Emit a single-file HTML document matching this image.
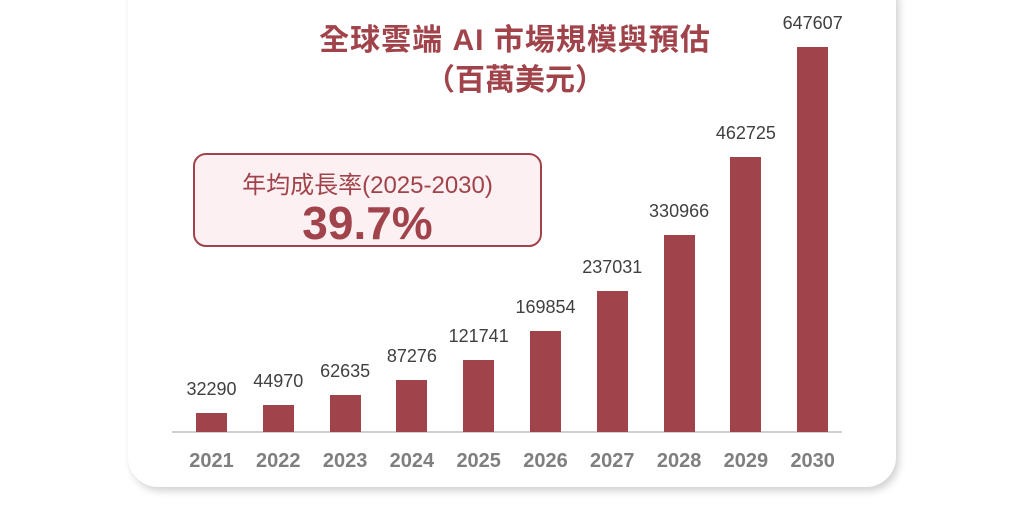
<!DOCTYPE html>
<html><head><meta charset="utf-8"><style>
body{margin:0;width:1024px;height:508px;background:#fff;position:relative;overflow:hidden;font-family:"Liberation Sans","Noto Sans CJK TC",sans-serif}
.card{position:absolute;left:128px;top:-30px;width:768px;height:517px;background:#fff;border-radius:30px;box-shadow:3px 4px 8px rgba(0,0,0,0.18)}
.t{position:absolute;color:#a0434a;font-weight:bold;font-size:30px;text-align:center;width:600px;left:215px}
.box{position:absolute;left:193px;top:153px;width:345px;height:90px;border:2px solid #a0434a;border-radius:13px;background:#fdf0f2;color:#a0434a;text-align:center}
.bar{position:absolute;background:#a0434a;width:31px}
.v{position:absolute;width:90px;text-align:center;font-size:18px;color:#404040}
.y{position:absolute;width:70px;text-align:center;font-size:20px;font-weight:bold;color:#7f7f7f;top:450px}
</style></head><body>
<div class="card"></div>
<div class="t" style="top:15px;letter-spacing:1px">全球雲端 AI 市場規模與預估</div>
<div class="t" style="top:55px">（百萬美元）</div>
<div class="box"><div style="font-size:24px;margin-top:10px">年均成長率(2025-2030)</div><div style="font-size:46px;font-weight:bold;line-height:46px">39.7%</div></div>
<div style="position:absolute;left:172px;top:431px;width:670px;height:2px;background:#d0d0d0"></div>
<div id="c"></div>
<script>
(function(){
var v=[32290,44970,62635,87276,121741,169854,237031,330966,462725,647607],h='';
for(var i=0;i<10;i++){var x=196+i*66.8,ht=v[i]*0.0005945,tp=432-ht;
h+='<div class="bar" style="left:'+x+'px;top:'+tp+'px;height:'+ht+'px"></div>';
h+='<div class="v" style="left:'+(x+15.5-45)+'px;top:'+(tp-34)+'px">'+v[i]+'</div>';
h+='<div class="y" style="left:'+(x+15.5-35)+'px">'+(2021+i)+'</div>';}
document.getElementById('c').innerHTML=h;
})();
</script>
</body></html>
